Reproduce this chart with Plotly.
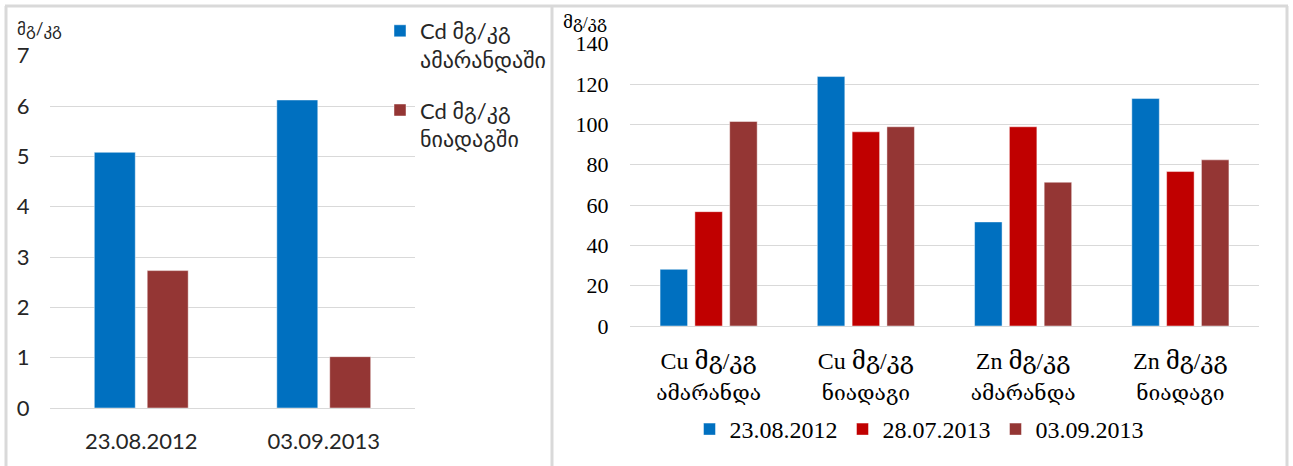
import plotly.graph_objects as go

W, H = 1293, 466

# Cd content (mg/kg) by sampling date
cd_dates = ["23.08.2012", "03.09.2013"]
cd_amaranth = [5.08, 6.12]
cd_soil = [2.73, 1.02]
cd_names = ["Cd მგ/კგ<br>ამარანდაში", "Cd მგ/კგ<br>ნიადაგში"]
cd_colors = ["#0070C0", "#943634"]

# Cu / Zn content (mg/kg) by sample type and date
metal_categories = [
    "Cu მგ/კგ<br>ამარანდა",
    "Cu მგ/კგ<br>ნიადაგი",
    "Zn მგ/კგ<br>ამარანდა",
    "Zn მგ/კგ<br>ნიადაგი",
]
sample_dates = ["23.08.2012", "28.07.2013", "03.09.2013"]
values_23_08_2012 = [28.1, 123.7, 51.6, 112.8]
values_28_07_2013 = [56.7, 96.3, 98.8, 76.6]
values_03_09_2013 = [101.4, 98.8, 71.3, 82.4]
metal_colors = ["#0070C0", "#C00000", "#943634"]

left_ticks = [0, 1, 2, 3, 4, 5, 6, 7]
right_ticks = [0, 20, 40, 60, 80, 100, 120, 140]

SANS = "Lato, 'DejaVu Sans', sans-serif"
SERIF = "'Liberation Serif', 'DejaVu Serif', serif"
GRID = "#d9d9d9"
BAR_EDGE = dict(width=1, color="rgba(255,255,255,0.45)")

# right panel bar geometry in category units (its own gap/groupgap)
RIGHT_GAP, RIGHT_GROUPGAP = 0.336, 0.21
right_slot = (1 - RIGHT_GAP) / len(sample_dates)


def px_x(px):
    return px / W


def px_y(py):
    return 1 - py / H


def two_line_tick(label):
    # element line in the serif face, sample type line slightly smaller
    first, second = label.split("<br>")
    return f"{first}<br><span style='font-size:21px'>{second}</span>"


fig = go.Figure()

for name, vals, col, grp in zip(cd_names, [cd_amaranth, cd_soil], cd_colors, ["a", "b"]):
    fig.add_trace(go.Bar(
        x=cd_dates, y=vals, name=name, marker_color=col, marker_line=BAR_EDGE,
        xaxis="x", yaxis="y", legend="legend", legendgroup=grp,
    ))

for i, (name, vals, col) in enumerate(zip(
        sample_dates,
        [values_23_08_2012, values_28_07_2013, values_03_09_2013],
        metal_colors)):
    fig.add_trace(go.Bar(
        x=metal_categories, y=vals, name=name, marker_color=col, marker_line=BAR_EDGE,
        width=right_slot * (1 - RIGHT_GROUPGAP),
        offset=(i - 1.5) * right_slot + right_slot * RIGHT_GROUPGAP / 2,
        xaxis="x2", yaxis="y2", legend="legend2",
    ))

fig.update_layout(
    width=W, height=H,
    margin=dict(l=0, r=0, t=0, b=0, autoexpand=False),
    paper_bgcolor="white", plot_bgcolor="white",
    barmode="group", bargap=0.42, bargroupgap=0.226,
    showlegend=True,
    xaxis=dict(
        domain=[px_x(50), px_x(415)], anchor="y",
        showgrid=False, showline=False, zeroline=False,
        ticks="outside", ticklen=14, tickcolor="rgba(0,0,0,0)",
        tickfont=dict(family=SANS, size=22, color="#262626"),
    ),
    yaxis=dict(
        domain=[px_y(408), px_y(55.7)], anchor="x",
        range=[0, 7], tickvals=left_ticks,
        showgrid=True, gridcolor=GRID, gridwidth=1,
        zeroline=True, zerolinecolor=GRID, zerolinewidth=1, showline=False,
        ticks="outside", ticklen=15, tickcolor="rgba(0,0,0,0)",
        tickfont=dict(family=SANS, size=22, color="#262626"),
    ),
    xaxis2=dict(
        domain=[px_x(630), px_x(1259)], anchor="y2",
        showgrid=False, showline=False, zeroline=False,
        ticks="outside", ticklen=13, tickcolor="rgba(0,0,0,0)",
        tickvals=metal_categories,
        ticktext=[two_line_tick(c) for c in metal_categories],
        tickfont=dict(family=SERIF, size=24, color="#000000"),
    ),
    yaxis2=dict(
        domain=[px_y(326), px_y(43.7)], anchor="x2",
        range=[0, 140], tickvals=right_ticks,
        showgrid=True, gridcolor=GRID, gridwidth=1,
        zeroline=True, zerolinecolor=GRID, zerolinewidth=1, showline=False,
        ticks="outside", ticklen=16, tickcolor="rgba(0,0,0,0)",
        tickfont=dict(family=SERIF, size=22, color="#000000"),
    ),
    legend=dict(
        xref="container", yref="container",
        x=px_x(380), y=px_y(10), xanchor="left", yanchor="top",
        orientation="v", valign="top", tracegroupgap=19,
        font=dict(family=SANS, size=22, color="#262626"),
        bgcolor="rgba(0,0,0,0)", itemclick=False,
    ),
    legend2=dict(
        xref="container", yref="container",
        x=px_x(919), y=px_y(407), xanchor="center", yanchor="top",
        orientation="h",
        font=dict(family=SERIF, size=24, color="#000000"),
        bgcolor="rgba(0,0,0,0)", itemclick=False,
    ),
    annotations=[
        dict(text="მგ/კგ", xref="paper", yref="paper", x=px_x(15), y=px_y(16),
             xanchor="left", yanchor="top", showarrow=False,
             font=dict(family=SANS, size=17, color="#262626")),
        dict(text="მგ/კგ", xref="paper", yref="paper", x=px_x(561), y=px_y(11),
             xanchor="left", yanchor="top", showarrow=False,
             font=dict(family=SERIF, size=17, color="#000000")),
    ],
)

# Panel frames
frame = dict(type="line", xref="paper", yref="paper",
             line=dict(color="#d9d9d9", width=3), layer="above")
fig.add_shape(**frame, x0=px_x(5), x1=px_x(1288), y0=px_y(6), y1=px_y(6))
fig.add_shape(**frame, x0=px_x(6), x1=px_x(6), y0=px_y(6), y1=0)
fig.add_shape(**frame, x0=px_x(552), x1=px_x(552), y0=px_y(6), y1=0)
fig.add_shape(**frame, x0=px_x(1287), x1=px_x(1287), y0=px_y(6), y1=0)

fig.write_html("out.html")
